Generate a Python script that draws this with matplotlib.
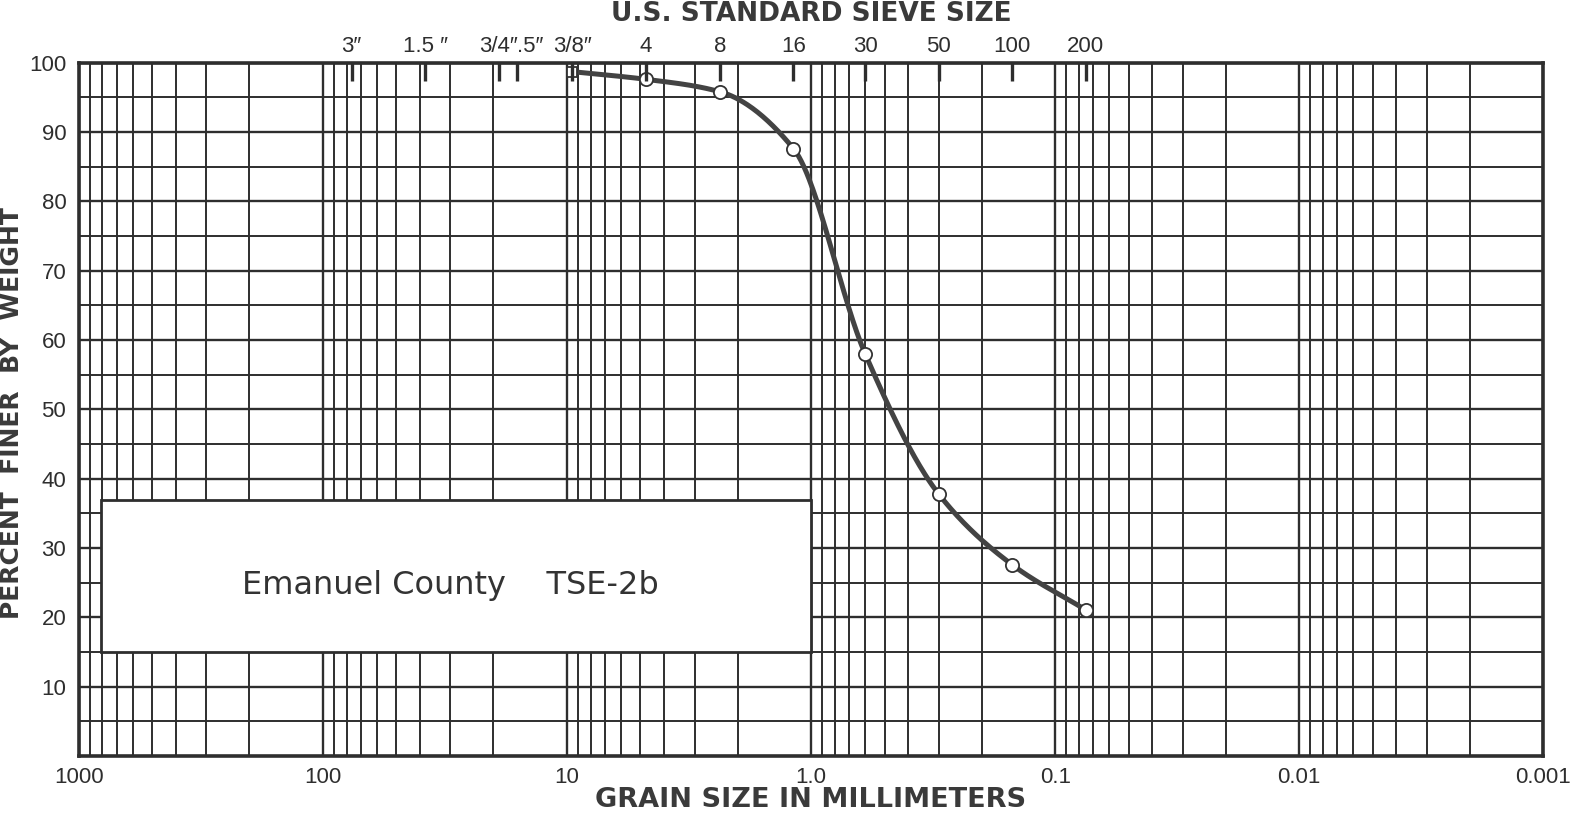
import numpy as np
import matplotlib.pyplot as plt
from matplotlib.patches import Rectangle

# grain size distribution, sample TSE-2b
grain_mm = [9.5, 4.75, 2.36, 1.18, 0.6, 0.3, 0.15, 0.075]
pct_finer = [98.7, 97.6, 95.8, 87.6, 58.0, 37.8, 27.6, 21.1]

# U.S. standard sieve openings shown along the top
sieve_mm = [76.2, 38.1, 19.05, 16.0, 9.5, 4.75, 2.36, 1.18, 0.6, 0.3, 0.15, 0.075]
sieve_labels = ['3″', '1.5 ″', '3/4″', '.5″', '3/8″', '4', '8', '16', '30', '50', '100', '200']

x_ticks = [1000, 100, 10, 1, 0.1, 0.01, 0.001]
x_tick_labels = ['1000', '100', '10', '1.0', '0.1', '0.01', '0.001']
y_ticks = [10, 20, 30, 40, 50, 60, 70, 80, 90, 100]

sample_name = 'Emanuel County    TSE-2b'

INK = '#2e2e2e'
LABEL_INK = '#3a3a3a'
WIDE = ['DejaVu Sans']
plt.rcParams['font.family'] = ['Liberation Sans', 'DejaVu Sans']


def pchip(x, y, xs):
    # monotone cubic (Fritsch-Carlson) for a smooth gradation curve
    x = np.asarray(x, float)
    y = np.asarray(y, float)
    h = np.diff(x)
    d = np.diff(y) / h
    m = np.zeros_like(y)
    for i in range(1, len(x) - 1):
        if d[i - 1] * d[i] > 0:
            w1 = 2 * h[i] + h[i - 1]
            w2 = h[i] + 2 * h[i - 1]
            m[i] = (w1 + w2) / (w1 / d[i - 1] + w2 / d[i])
    m[0] = d[0]
    m[-1] = d[-1]
    idx = np.clip(np.searchsorted(x, xs) - 1, 0, len(x) - 2)
    t = (xs - x[idx]) / h[idx]
    h00 = 2 * t**3 - 3 * t**2 + 1
    h10 = t**3 - 2 * t**2 + t
    h01 = -2 * t**3 + 3 * t**2
    h11 = t**3 - t**2
    return h00 * y[idx] + h10 * h[idx] * m[idx] + h01 * y[idx + 1] + h11 * h[idx] * m[idx + 1]


fig = plt.figure(figsize=(15.85, 8.17), dpi=100)
ax = fig.add_axes([0.0497, 0.0745, 0.924, 0.8488])

ax.set_xscale('log')
ax.set_xlim(1000, 0.001)
ax.set_ylim(0, 100)

# log paper grid
ax.set_xticks(x_ticks)
ax.set_xticklabels(x_tick_labels)
ax.set_yticks(y_ticks)
ax.set_yticks(np.arange(5, 100, 10), minor=True)
ax.set_axisbelow(True)
ax.grid(which='major', axis='both', color=INK, lw=1.7)
ax.grid(which='minor', axis='both', color=INK, lw=1.4)
ax.tick_params(which='both', length=0, labelsize=16, colors=INK)
ax.tick_params(axis='x', pad=8)
ax.tick_params(axis='y', pad=9)
for s in ax.spines.values():
    s.set_linewidth(2.6)
    s.set_color(INK)

ax.set_xlabel('GRAIN SIZE IN MILLIMETERS', fontsize=19.5, fontweight='bold',
              family=WIDE, color=LABEL_INK, va='baseline')
ax.xaxis.set_label_coords(0.5, -0.073)
ax.set_ylabel('PERCENT  FINER  BY  WEIGHT', fontsize=18, fontweight='bold',
              family=WIDE, color=LABEL_INK, va='baseline')
ax.yaxis.set_label_coords(-0.0405, 0.495)

# label box
ax.add_patch(Rectangle((1.0, 15), 810 - 1.0, 22, facecolor='white',
                       edgecolor=INK, lw=2, zorder=3))
ax.text(30, 24.6, sample_name, fontsize=23, color='#333333', family=WIDE,
        ha='center', va='center', zorder=4)

# gradation curve
lx = np.log10(grain_mm[::-1])
ly = np.array(pct_finer[::-1])
xs = np.linspace(lx[0], lx[-1], 400)
ax.plot(10**xs, pchip(lx, ly, xs), color='#434343', lw=3.6, zorder=5,
        solid_capstyle='round')
ax.plot(grain_mm[1:], pct_finer[1:], 'o', ms=9.5, mfc='white', mec='#333333',
        mew=1.3, zorder=6)
ax.plot(grain_mm[:1], pct_finer[:1], 's', ms=7, mfc='white', mec='#333333',
        mew=1.3, zorder=6)

# sieve sizes along the top
top = ax.twiny()
top.set_xscale('log')
top.set_xlim(ax.get_xlim())
top.set_xticks(sieve_mm)
top.set_xticklabels(sieve_labels)
top.xaxis.set_minor_locator(plt.NullLocator())
top.tick_params(axis='x', direction='in', length=13, width=2.4, color=INK,
                labelsize=16, labelcolor=INK, pad=4)
for s in top.spines.values():
    s.set_visible(False)
for lab in top.get_xticklabels():
    if lab.get_text() == '.5″':
        lab.set_ha('left')
top.set_xlabel('U.S. STANDARD SIEVE SIZE', fontsize=19, fontweight='bold',
               family=WIDE, color=LABEL_INK, va='baseline')
top.xaxis.set_label_coords(0.5, 1.06)

fig.savefig('out.png', dpi=100, facecolor='white')
